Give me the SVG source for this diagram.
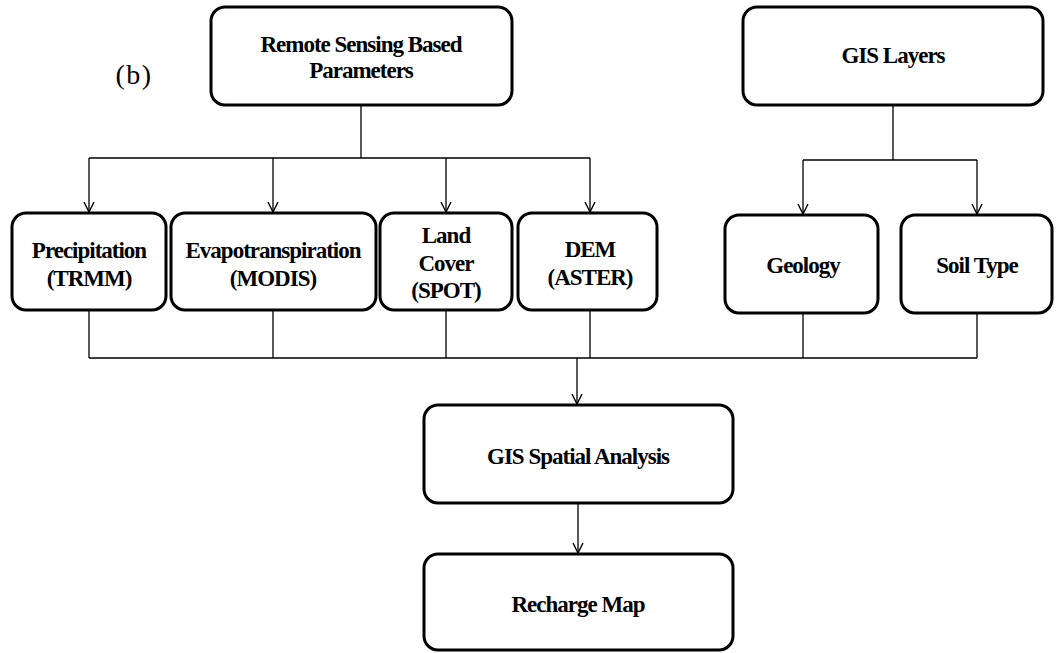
<svg xmlns="http://www.w3.org/2000/svg" width="1061" height="653" viewBox="0 0 1061 653">
<defs>
<marker id="vee" viewBox="0 0 12 12" refX="11" refY="6" markerWidth="12" markerHeight="12" markerUnits="userSpaceOnUse" orient="auto">
<path d="M1,1 L11,6 L1,11" fill="none" stroke="#000" stroke-width="1.4"/>
</marker>
</defs>
<style>
.box{fill:#fff;stroke:#000;stroke-width:3}
.t{font-weight:bold;font-size:23px;text-anchor:middle;fill:#000;letter-spacing:-1px}
.c{fill:none;stroke:#000;stroke-width:1.3}
.ca{fill:none;stroke:#000;stroke-width:1.3;marker-end:url(#vee)}
</style>
<rect width="1061" height="653" fill="#fff"/>
<g font-family="Liberation Serif, Times New Roman, serif">
<text x="134" y="84" font-size="28" text-anchor="middle" letter-spacing="1.5">(b)</text>
<g id="connectors">
<path class="c" d="M361,105 V158 M89,158 H590"/>
<path class="ca" d="M89,158 V212"/>
<path class="ca" d="M273,158 V212"/>
<path class="ca" d="M446,158 V212"/>
<path class="ca" d="M590,158 V212"/>
<path class="c" d="M893,105 V160 M803,160 H977"/>
<path class="ca" d="M803,160 V214"/>
<path class="ca" d="M977,160 V214"/>
<path class="c" d="M89,310 V358 M273,310 V358 M446,310 V358 M590,310 V358 M803,313 V358 M977,313 V358 M89,358 H977"/>
<path class="ca" d="M577,358 V404" stroke-width="2"/>
<path class="ca" d="M578,503 V553"/>
</g>
<g id="rs"><rect class="box" x="211" y="7" width="301" height="98" rx="14"/>
<text class="t" x="361" y="52">Remote Sensing Based</text><text class="t" x="361" y="78">Parameters</text></g>
<g id="gis"><rect class="box" x="743" y="7" width="300" height="98" rx="14"/>
<text class="t" x="893" y="63">GIS Layers</text></g>
<g id="precip"><rect class="box" x="12" y="213" width="154" height="97" rx="14"/>
<text class="t" x="89" y="258">Precipitation</text><text class="t" x="89" y="286">(TRMM)</text></g>
<g id="evapo"><rect class="box" x="171" y="213" width="205" height="97" rx="14"/>
<text class="t" x="273" y="258">Evapotranspiration</text><text class="t" x="273" y="286">(MODIS)</text></g>
<g id="land"><rect class="box" x="380" y="213" width="132" height="97" rx="14"/>
<text class="t" x="446" y="243">Land</text><text class="t" x="446" y="271">Cover</text><text class="t" x="446" y="298">(SPOT)</text></g>
<g id="dem"><rect class="box" x="518" y="213" width="139" height="97" rx="14"/>
<text class="t" x="590" y="257">DEM</text><text class="t" x="590" y="285">(ASTER)</text></g>
<g id="geology"><rect class="box" x="725" y="215" width="153" height="98" rx="14"/>
<text class="t" x="803" y="273">Geology</text></g>
<g id="soil"><rect class="box" x="901" y="215" width="151" height="98" rx="14"/>
<text class="t" x="977" y="273">Soil Type</text></g>
<g id="spatial"><rect class="box" x="424" y="405" width="309" height="98" rx="14"/>
<text class="t" x="578" y="464">GIS Spatial Analysis</text></g>
<g id="recharge"><rect class="box" x="424" y="554" width="309" height="96" rx="14"/>
<text class="t" x="578" y="612">Recharge Map</text></g>
</g>
</svg>
